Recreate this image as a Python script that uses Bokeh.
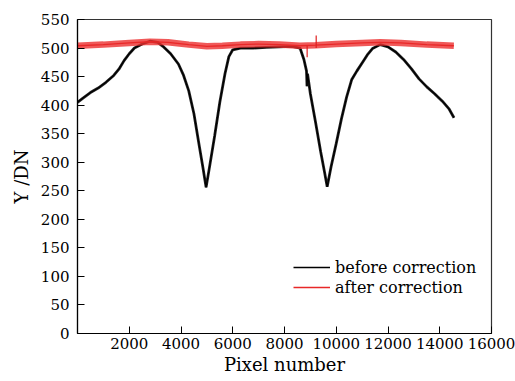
from bokeh.plotting import figure
from bokeh.models import FixedTicker, Legend, LegendItem
from bokeh.embed import file_html
from bokeh.resources import INLINE

# before correction (black)
before_x = [0, 200, 500, 800, 1100, 1400, 1600, 1800, 2000, 2200, 2500, 2800, 3100, 3300,
            3600, 3900, 4100, 4300, 4500, 4700, 4850, 4970, 5100, 5300, 5500, 5700, 5850,
            6000, 6300, 6800, 7300, 7800, 8300, 8600, 8750, 8850, 8870, 8890, 9000, 9200,
            9400, 9550, 9650, 9800, 10000, 10200, 10400, 10600, 10800, 11000, 11200, 11400,
            11700, 12000, 12300, 12600, 12900, 13200, 13500, 13800, 14100, 14350, 14550]
before_y = [405, 412, 422, 430, 440, 452, 463, 478, 490, 500, 507, 512, 510, 503,
            490, 472, 452, 425, 385, 330, 290, 256, 291, 346, 405, 455, 485,
            497, 500, 500, 501, 502, 503, 500, 480, 460, 433, 455, 420, 370,
            318, 282, 257, 292, 333, 376, 414, 445, 460, 474, 488, 499,
            506, 502, 493, 480, 464, 446, 432, 420, 407, 394, 378]

# after correction (red)
after_x = [0, 1000, 2000, 2800, 3500, 4300, 5000, 5600, 6300, 7000, 7800, 8600,
           9200, 10000, 11000, 11700, 12500, 13500, 14545]
after_y = [504, 506, 509, 511, 510, 506, 503, 504, 506, 507, 506, 504,
           505, 507, 509, 510, 509, 506, 504]
spike_x = [8875, 9225]
spike_lo = [484, 500]
spike_hi = [504, 522]

x_ticks = [2000, 4000, 6000, 8000, 10000, 12000, 14000, 16000]
y_ticks = [0, 50, 100, 150, 200, 250, 300, 350, 400, 450, 500, 550]

FONT = "DejaVu Serif"

p = figure(width=515, height=381, x_range=(0, 16000), y_range=(0, 550),
           output_backend="svg", toolbar_location=None,
           min_border_left=77, min_border_right=24, min_border_top=19, min_border_bottom=48)

p.line(before_x, before_y, line_color="black", line_width=2.8, line_alpha=0.85)
leg_b = p.line(before_x, before_y, line_color="black", line_width=1.3)
p.line(after_x, after_y, line_color="#ec3030", line_width=6.5, line_alpha=0.8)
leg_r = p.line(after_x, after_y, line_color="#e82828", line_width=1.3)
p.segment(x0=spike_x, y0=spike_lo, x1=spike_x, y1=spike_hi, line_color="#e02020", line_width=1.2)

legend = Legend(items=[LegendItem(label="before correction", renderers=[leg_b]),
                       LegendItem(label="after correction", renderers=[leg_r])],
                location=(216, 36), border_line_color=None, background_fill_alpha=0,
                padding=0, margin=0, spacing=0, glyph_width=37, glyph_height=20,
                label_height=20, label_standoff=5,
                label_text_font=FONT, label_text_font_size="16px", label_text_color="black")
p.add_layout(legend)

p.xgrid.visible = False
p.ygrid.visible = False
p.outline_line_color = "#333333"
p.outline_line_width = 1.2

for ax in (p.xaxis[0], p.yaxis[0]):
    ax.major_tick_in = 7
    ax.major_tick_out = 0
    ax.minor_tick_line_color = None
    ax.axis_line_color = "black"
    ax.axis_line_width = 1.2
    ax.major_tick_line_color = "black"
    ax.major_label_text_font = FONT
    ax.major_label_text_font_size = "15px"
    ax.major_label_text_color = "black"
    ax.axis_label_text_font = FONT
    ax.axis_label_text_font_size = "18px"
    ax.axis_label_text_font_style = "normal"
    ax.axis_label_text_color = "black"

p.xaxis.ticker = FixedTicker(ticks=x_ticks)
p.yaxis.ticker = FixedTicker(ticks=y_ticks)
p.xaxis.axis_label = "Pixel number"
p.yaxis.axis_label = "Y /DN"
p.xaxis.major_label_standoff = 4
p.xaxis.axis_label_standoff = 2
p.yaxis.major_label_standoff = 8
p.yaxis.axis_label_standoff = 6

open("out.html", "w").write(file_html(p, INLINE))
